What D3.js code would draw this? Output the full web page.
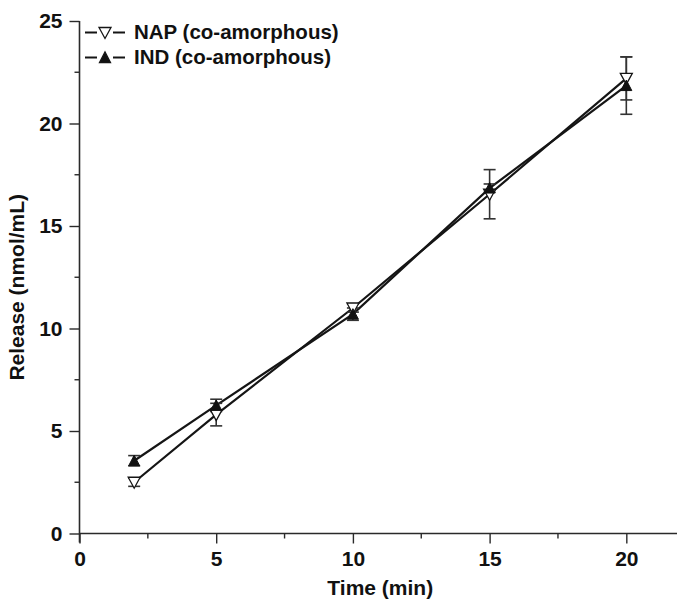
<!DOCTYPE html>
<html>
<head>
<meta charset="utf-8">
<script src="https://cdn.jsdelivr.net/npm/d3@7"></script>
<style>
  html, body { margin: 0; padding: 0; background: #fff; }
  svg { display: block; }
  text { font-family: "Liberation Sans", Arial, sans-serif; font-weight: bold; fill: #111; }
</style>
</head>
<body>
<svg id="chart" width="677" height="602"></svg>
<script>
// Release over time, two co-amorphous components
const times = [2, 5, 10, 15, 20];
const napMean = [2.5, 5.8, 11.0, 16.55, 22.2];
const napErr = [0.2, 0.55, 0.2, 1.2, 1.05];
const indMean = [3.55, 6.25, 10.7, 16.85, 21.85];
const indErr = [0.25, 0.3, 0.3, 0.2, 1.4];
const xTicks = [0, 5, 10, 15, 20];
const yTicks = [0, 5, 10, 15, 20, 25];
const seriesNames = ["NAP (co-amorphous)", "IND (co-amorphous)"];

const svg = d3.select("#chart");
const x = d3.scaleLinear().domain([0, 22]).range([79.5, 681]);
const y = d3.scaleLinear().domain([0, 25]).range([533.5, 21]);
const axisColor = "#2a2a2a";
const fontSize = "21px";

// axes
const xAxis = svg.append("g").attr("transform", `translate(0,${y(0)})`)
  .call(d3.axisBottom(x).tickValues(xTicks).tickSize(10).tickPadding(8).tickFormat(d3.format("d")));
const yAxis = svg.append("g").attr("transform", `translate(${x(0)},0)`)
  .call(d3.axisLeft(y).tickValues(yTicks).tickSize(10).tickPadding(7).tickFormat(d3.format("d")));
[xAxis, yAxis].forEach(g => {
  g.select(".domain").attr("stroke", axisColor).attr("stroke-width", 1.6);
  g.selectAll(".tick line").attr("stroke", axisColor).attr("stroke-width", 1.4);
  g.selectAll(".tick text").style("font-size", fontSize).attr("fill", "#111");
});
// y axis runs a little below the x axis; x axis runs on past the last tick
yAxis.select(".domain").attr("d", `M0,${y(25)}V${y(0) + 9}`);
xAxis.select(".domain").attr("d", `M${x(0)},0H${x(22)}`);

// minor ticks
const xMinor = [2.5, 7.5, 12.5, 17.5];
const yMinor = [2.5, 7.5, 12.5, 17.5, 22.5];
svg.append("g").selectAll("line").data(xMinor).join("line")
  .attr("x1", d => x(d)).attr("x2", d => x(d))
  .attr("y1", y(0)).attr("y2", y(0) + 5)
  .attr("stroke", axisColor).attr("stroke-width", 1.4);
svg.append("g").selectAll("line").data(yMinor).join("line")
  .attr("y1", d => y(d)).attr("y2", d => y(d))
  .attr("x1", x(0)).attr("x2", x(0) - 5)
  .attr("stroke", axisColor).attr("stroke-width", 1.4);

// axis titles
svg.append("text").attr("x", (x(0) + x(22)) / 2).attr("y", 595)
  .attr("text-anchor", "middle").style("font-size", fontSize).text("Time (min)");
svg.append("text").attr("transform", `translate(24,${(y(0) + y(25)) / 2 + 10}) rotate(-90)`)
  .attr("text-anchor", "middle").style("font-size", fontSize).text("Release (nmol/mL)");

const nap = times.map((t, i) => ({ t, v: napMean[i], e: napErr[i] }));
const ind = times.map((t, i) => ({ t, v: indMean[i], e: indErr[i] }));

const line = d3.line().x(d => x(d.t)).y(d => y(d.v));
[nap, ind].forEach(s => {
  svg.append("path").datum(s).attr("d", line)
    .attr("fill", "none").attr("stroke", "#151515").attr("stroke-width", 2.2);
});

// error bars
function errorBars(data) {
  const g = svg.append("g").attr("stroke", "#333").attr("stroke-width", 1.6);
  data.forEach(d => {
    g.append("line").attr("x1", x(d.t)).attr("x2", x(d.t)).attr("y1", y(d.v - d.e)).attr("y2", y(d.v + d.e));
    g.append("line").attr("x1", x(d.t) - 6).attr("x2", x(d.t) + 6).attr("y1", y(d.v - d.e)).attr("y2", y(d.v - d.e));
    g.append("line").attr("x1", x(d.t) - 6).attr("x2", x(d.t) + 6).attr("y1", y(d.v + d.e)).attr("y2", y(d.v + d.e));
  });
}
errorBars(nap);
errorBars(ind);

const downTri = "M-6,-5L6,-5L0,6Z";
const upTri = "M-5.5,5L5.5,5L0,-5.5Z";
svg.append("g").selectAll("path").data(nap).join("path")
  .attr("transform", d => `translate(${x(d.t)},${y(d.v)})`)
  .attr("d", downTri).attr("fill", "#fff").attr("stroke", "#151515").attr("stroke-width", 1.3);
svg.append("g").selectAll("path").data(ind).join("path")
  .attr("transform", d => `translate(${x(d.t)},${y(d.v)})`)
  .attr("d", upTri).attr("fill", "#111").attr("stroke", "#111").attr("stroke-width", 1);

// legend
const legend = svg.append("g");
[[downTri, "#fff"], [upTri, "#111"]].forEach(([shape, fill], i) => {
  const ly = 32.5 + i * 25;
  legend.append("line").attr("x1", 85).attr("x2", 97).attr("y1", ly).attr("y2", ly)
    .attr("stroke", "#151515").attr("stroke-width", 2);
  legend.append("line").attr("x1", 113).attr("x2", 125).attr("y1", ly).attr("y2", ly)
    .attr("stroke", "#151515").attr("stroke-width", 2);
  legend.append("path").attr("transform", `translate(105,${ly})`).attr("d", shape)
    .attr("fill", fill).attr("stroke", "#151515").attr("stroke-width", 1.3);
  legend.append("text").attr("x", 134).attr("y", ly + 6.5).style("font-size", "20.5px").text(seriesNames[i]);
});
</script>
</body>
</html>
